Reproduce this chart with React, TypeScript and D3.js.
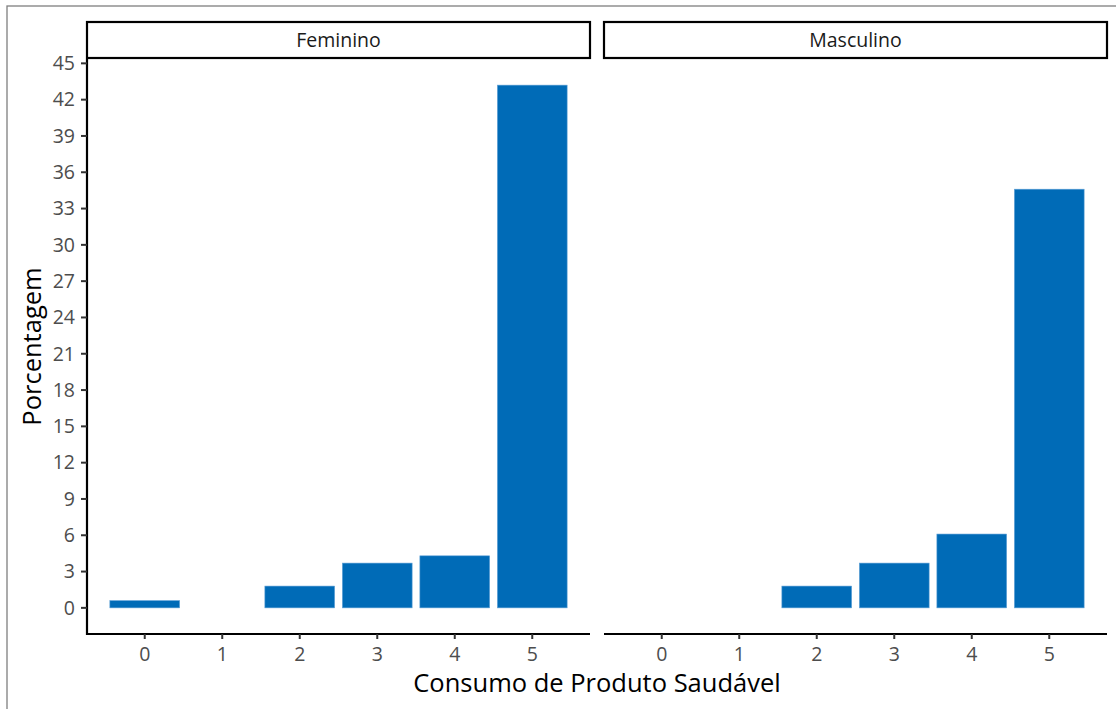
import React from "react";
import * as d3 from "d3";

const categories = [0, 1, 2, 3, 4, 5];
const panels = ["Feminino", "Masculino"];
const feminino = [0.6, 0, 1.8, 3.7, 4.3, 43.2];
const masculino = [0, 0, 1.8, 3.7, 6.1, 34.6];
const yTicks = d3.range(0, 46, 3);

const W = 1116;
const H = 709;
const panelTop = 59;
const panelBottom = 634;
const panelX = [
  [87, 590],
  [604, 1107],
];
const barColor = "#006BB7";
const font = "'Open Sans', 'Noto Sans', sans-serif";
const smallSize = 19.5;
const titleSize = 25.5;

export default function App() {
  const values = [feminino, masculino];
  const xExtent: [number, number] = [-0.745, 5.745];
  const y = d3.scaleLinear().domain([-2.16, 45.36]).range([panelBottom, panelTop]);
  return (
    <svg width={W} height={H} style={{ display: "block", position: "absolute", left: 0, top: 0 }}>
      <rect x={0} y={0} width={W} height={H} fill="white" />
      <rect x={7} y={6} width={W + 10} height={H + 10} fill="none" stroke="#7f7f7f" strokeWidth={1.3} />
      {panels.map((p, pi) => {
        const [x0, x1] = panelX[pi];
        const x = d3.scaleLinear().domain(xExtent).range([x0, x1]);
        const bw = x(0.9) - x(0);
        return (
          <g key={p}>
            <rect x={x0} y={22} width={x1 - x0} height={36} fill="white" stroke="black" strokeWidth={2.2} />
            <text x={(x0 + x1) / 2} y={40} dy="0.35em" textAnchor="middle" fontFamily={font} fontSize={smallSize} fill="#1A1A1A">
              {p}
            </text>
            {categories.map((c, i) =>
              values[pi][i] > 0 ? (
                <rect
                  key={c}
                  x={x(c) - bw / 2}
                  width={bw}
                  y={y(values[pi][i])}
                  height={y(0) - y(values[pi][i])}
                  fill={barColor}
                  stroke="#5FA0D6"
                  strokeWidth={0.6}
                />
              ) : null
            )}
            <line x1={x0} x2={x1} y1={panelBottom} y2={panelBottom} stroke="black" strokeWidth={2.2} />
            {categories.map((c) => (
              <g key={c}>
                <line x1={x(c)} x2={x(c)} y1={panelBottom} y2={panelBottom + 5} stroke="#333" strokeWidth={2} />
                <text x={x(c)} y={654} dy="0.35em" textAnchor="middle" fontFamily={font} fontSize={smallSize} fill="#4D4D4D">
                  {c}
                </text>
              </g>
            ))}
          </g>
        );
      })}
      <line x1={87} x2={87} y1={panelTop} y2={panelBottom + 1} stroke="black" strokeWidth={2.2} />
      {yTicks.map((t) => (
        <g key={t}>
          <line x1={81} x2={87} y1={y(t)} y2={y(t)} stroke="#333" strokeWidth={2} />
          <text x={75} y={y(t)} dy="0.35em" textAnchor="end" fontFamily={font} fontSize={smallSize} fill="#4D4D4D">
            {t}
          </text>
        </g>
      ))}
      <text
        transform={`translate(32,${(panelTop + panelBottom) / 2}) rotate(-90)`}
        textAnchor="middle"
        dy="0.35em"
        fontFamily={font}
        fontSize={titleSize}
        fill="black"
      >
        Porcentagem
      </text>
      <text x={597} y={683} dy="0.35em" textAnchor="middle" fontFamily={font} fontSize={titleSize} fill="black">
        Consumo de Produto Saudável
      </text>
    </svg>
  );
}
